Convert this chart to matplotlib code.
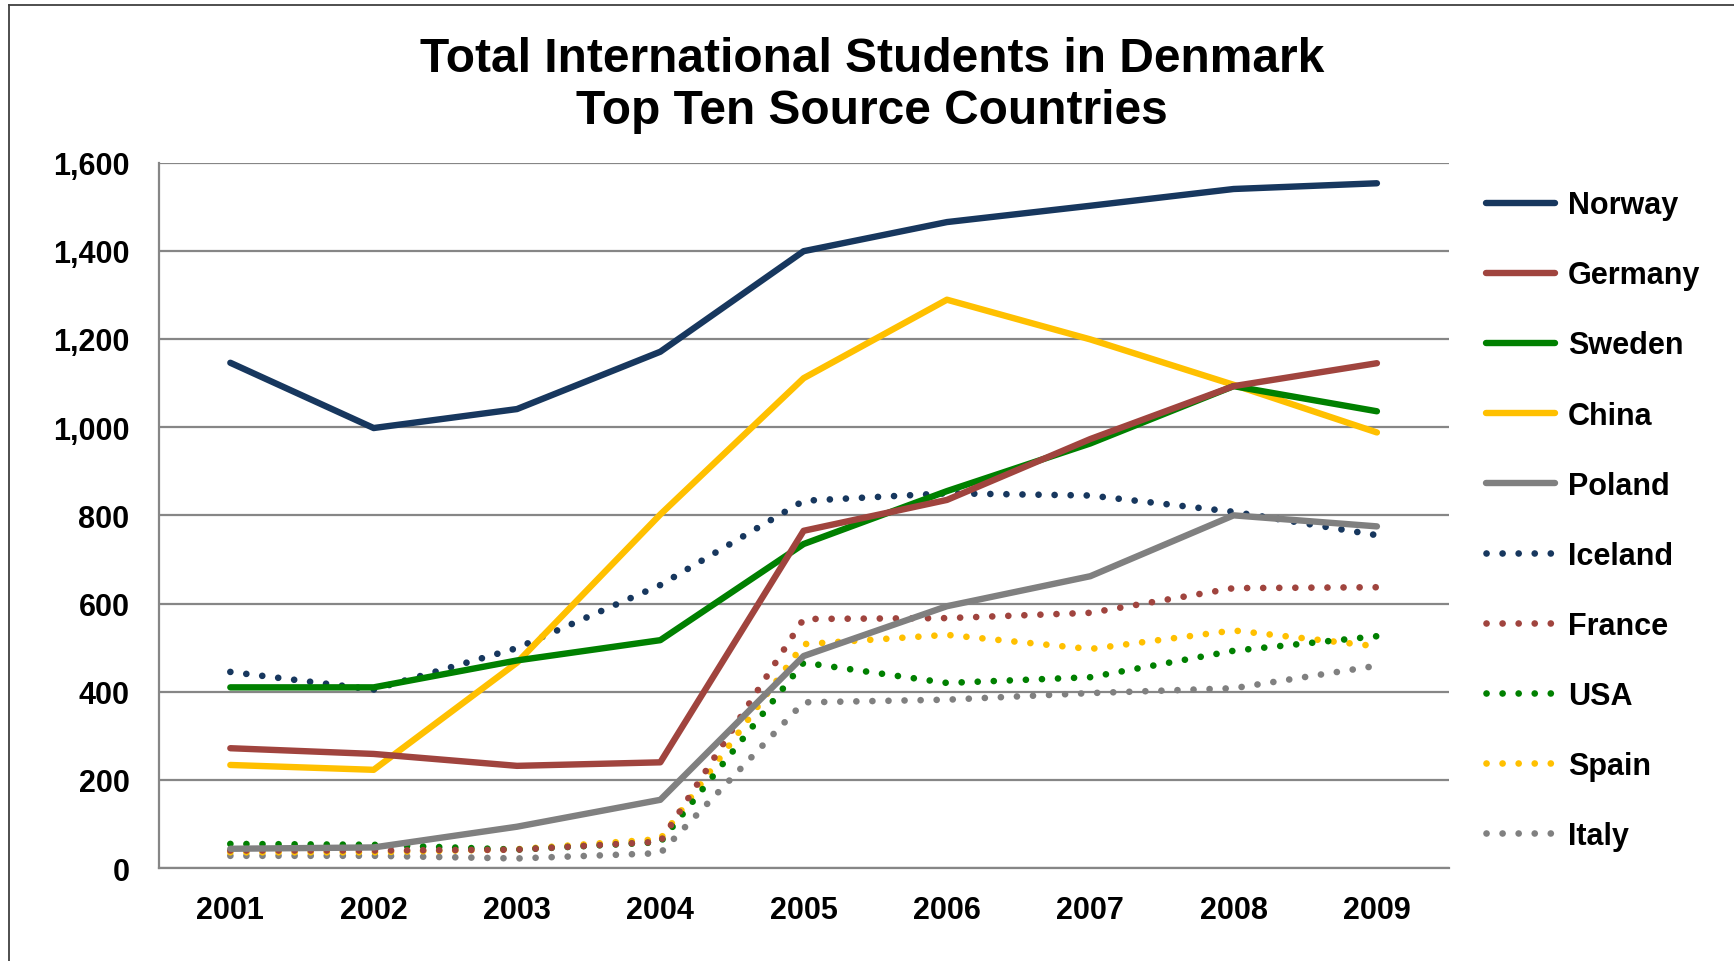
import matplotlib
matplotlib.use("Agg")
import matplotlib.pyplot as plt
from matplotlib.lines import Line2D

plt.rcParams["font.family"] = ["Liberation Sans", "DejaVu Sans"]
plt.rcParams["font.weight"] = "bold"

# Data
years = ["2001", "2002", "2003", "2004", "2005", "2006", "2007", "2008", "2009"]

norway = [1146, 998, 1041, 1171, 1399, 1465, 1502, 1540, 1553]
germany = [272, 259, 232, 240, 765, 835, 973, 1093, 1145]
sweden = [410, 410, 471, 517, 735, 855, 963, 1093, 1036]
china = [234, 223, 466, 802, 1111, 1289, 1199, 1096, 988]
poland = [44, 47, 94, 155, 481, 594, 662, 800, 775]
iceland = [445, 405, 499, 642, 833, 850, 845, 808, 755]
france = [40, 40, 42, 60, 565, 567, 579, 635, 637]
usa = [55, 53, 42, 59, 466, 420, 433, 493, 526]
spain = [36, 36, 43, 66, 508, 529, 497, 539, 503]
italy = [28, 28, 22, 34, 376, 382, 397, 408, 459]

navy = "#17375E"
red = "#A0443E"
green = "#008000"
gold = "#FFC000"
gray = "#808080"

series = [
    ("Norway", norway, navy, "-"),
    ("Germany", germany, red, "-"),
    ("Sweden", sweden, green, "-"),
    ("China", china, gold, "-"),
    ("Poland", poland, gray, "-"),
    ("Iceland", iceland, navy, ":"),
    ("France", france, red, ":"),
    ("USA", usa, green, ":"),
    ("Spain", spain, gold, ":"),
    ("Italy", italy, gray, ":"),
]

fig = plt.figure(figsize=(17.34, 9.62), dpi=100)
fig.patch.set_facecolor("white")

# outer frame (left and top edges only visible)
fig.add_artist(Line2D([8.5 / 1734, 8.5 / 1734], [0, 1 - 6 / 962],
                      transform=fig.transFigure, color="#404040", lw=1.3))
fig.add_artist(Line2D([8.5 / 1734, 1], [1 - 6 / 962, 1 - 6 / 962],
                      transform=fig.transFigure, color="#404040", lw=1.3))

ax = fig.add_axes([0.0915, 0.0965, 0.7439, 0.7335])
x = list(range(len(years)))

# draw dotted first so the solid lines sit on top
for name, vals, col, ls in series[::-1]:
    if ls == "-":
        ax.plot(x, vals, color=col, lw=4.6, solid_capstyle="round",
                solid_joinstyle="round", label=name, zorder=3)
    else:
        ax.plot(x, vals, color=col, lw=4.8, linestyle=(0, (0.01, 2.4)),
                dash_capstyle="round", label=name, zorder=2)

ax.set_xlim(-0.5, 8.5)
ax.set_ylim(0, 1600)
ax.set_yticks(range(0, 1601, 200))
ax.set_yticklabels([f"{v:,}" for v in range(0, 1601, 200)])
ax.set_xticks(x)
ax.set_xticklabels(years)

ax.grid(axis="y", color="#868686", lw=1.6)
ax.set_axisbelow(True)
for s in ["top", "right"]:
    ax.spines[s].set_visible(False)
for s in ["left", "bottom"]:
    ax.spines[s].set_color("#868686")
    ax.spines[s].set_linewidth(1.6)

ax.tick_params(axis="both", length=0, labelsize=22)
ax.tick_params(axis="y", pad=21)
ax.tick_params(axis="x", pad=19)

# legend in series order
handles, labels = ax.get_legend_handles_labels()
order = [labels.index(s[0]) for s in series]
leg = fig.legend([handles[i] for i in order], [labels[i] for i in order],
                 loc="upper left", bbox_to_anchor=(0.857, 0.801),
                 frameon=False, fontsize=22, handlelength=2.25,
                 handletextpad=0.44, labelspacing=1.31,
                 borderpad=0, borderaxespad=0)

fig.suptitle("Total International Students in Denmark\nTop Ten Source Countries",
             x=0.503, y=0.962, fontsize=34.5, fontweight="bold",
             linespacing=1.21, va="top")

fig.savefig("out.png", dpi=100)
